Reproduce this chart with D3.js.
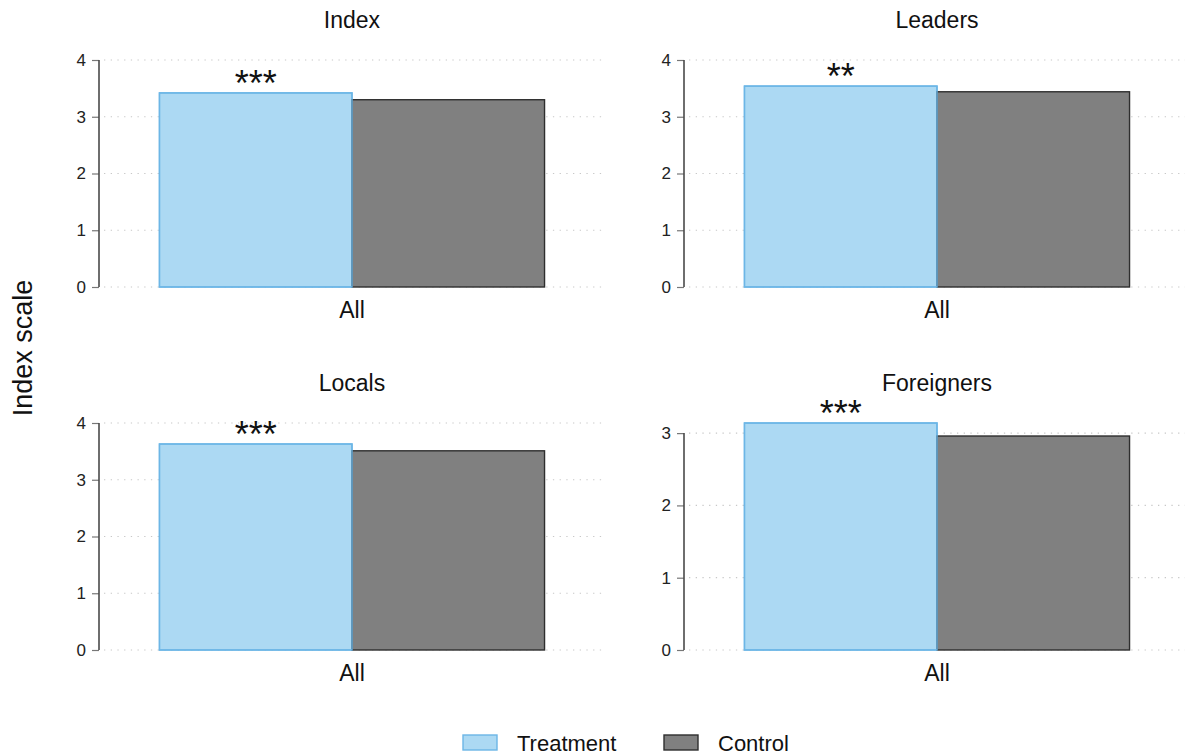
<!DOCTYPE html>
<html>
<head>
<meta charset="utf-8">
<script src="https://cdn.jsdelivr.net/npm/d3@7"></script>
<style>
  html, body { margin: 0; padding: 0; background: #fff; }
  svg { display: block; font-family: "Liberation Sans", Arial, Helvetica, sans-serif; }
</style>
</head>
<body>
<svg id="chart" width="1185" height="756"></svg>
<script>
// Panel titles, the single category, and the two series
const panelTitles = ["Index", "Leaders", "Locals", "Foreigners"];
const categories = ["All"];
const seriesNames = ["Treatment", "Control"];
const treatmentValues = [3.42, 3.54, 3.63, 3.14];
const controlValues = [3.30, 3.44, 3.51, 2.96];
const significance = ["***", "**", "***", "***"];
const yTickValues = [
  [0, 1, 2, 3, 4],
  [0, 1, 2, 3, 4],
  [0, 1, 2, 3, 4],
  [0, 1, 2, 3]
];

const colors = {
  Treatment: { fill: "#acd9f3", stroke: "#6cb6e6" },
  Control: { fill: "#808080", stroke: "#2e2e2e" }
};

const svg = d3.select("#chart");

// 2x2 grid of panels
const colX = [99, 684];
const rowY = [60, 423];
const panelW = 506, panelH = 227;

panelTitles.forEach((title, i) => {
  const left = colX[i % 2];
  const top = rowY[Math.floor(i / 2)];
  const bottom = top + panelH;
  const right = left + panelW;
  const ticks = yTickValues[i];
  const values = [treatmentValues[i], controlValues[i]];
  const yMax = Math.max(d3.max(ticks), d3.max(values));

  const y = d3.scaleLinear().domain([0, yMax]).range([bottom, top]);
  const x = d3.scaleBand().domain(categories).range([left, right])
    .paddingInner(0).paddingOuter(0.157);
  const xs = d3.scaleBand().domain(seriesNames).range([0, x.bandwidth()]).padding(0);

  const g = svg.append("g");

  // dotted horizontal gridlines
  g.append("g").selectAll("line").data(ticks).join("line")
    .attr("x1", left + 5).attr("x2", right)
    .attr("y1", d => y(d)).attr("y2", d => y(d))
    .attr("stroke", "#c8c8c8").attr("stroke-width", 1.2)
    .attr("stroke-dasharray", "1.3,5.4");

  // bars
  const rows = seriesNames.map((s, k) => ({ series: s, cat: categories[0], value: values[k] }));
  g.append("g").selectAll("rect").data(rows).join("rect")
    .attr("x", d => x(d.cat) + xs(d.series))
    .attr("y", d => y(d.value))
    .attr("width", xs.bandwidth())
    .attr("height", d => y(0) - y(d.value))
    .attr("fill", d => colors[d.series].fill)
    .attr("stroke", d => colors[d.series].stroke)
    .attr("stroke-width", 1.4);
  // redraw treatment outline on top so its edge shows beside the control bar
  g.append("rect")
    .attr("x", x(categories[0]) + xs("Treatment"))
    .attr("y", y(values[0]))
    .attr("width", xs.bandwidth())
    .attr("height", y(0) - y(values[0]))
    .attr("fill", "none")
    .attr("stroke", colors.Treatment.stroke)
    .attr("stroke-width", 1.4);

  // significance stars above the treatment bar
  g.append("text")
    .attr("x", x(categories[0]) + xs("Treatment") + xs.bandwidth() / 2)
    .attr("y", y(values[0]) + 3)
    .attr("text-anchor", "middle")
    .attr("font-size", 36)
    .attr("fill", "#111")
    .text(significance[i]);

  // y axis
  const yAxis = d3.axisLeft(y).tickValues(ticks).tickSize(7).tickPadding(6).tickFormat(d3.format("d"));
  const ya = g.append("g").attr("transform", `translate(${left},0)`).call(yAxis);
  ya.attr("font-size", 17).attr("font-family", "Liberation Sans, Arial, sans-serif");
  ya.select(".domain").remove();
  ya.append("line")
    .attr("x1", 0).attr("x2", 0)
    .attr("y1", y(d3.max(ticks))).attr("y2", y(0))
    .attr("stroke", "#4a4a4a").attr("stroke-width", 1.6);
  ya.selectAll(".tick line").attr("stroke", "#777").attr("stroke-width", 1.2);
  ya.selectAll(".tick text").attr("fill", "#222");

  // category label
  g.append("text")
    .attr("x", x(categories[0]) + x.bandwidth() / 2)
    .attr("y", bottom + 31)
    .attr("text-anchor", "middle")
    .attr("font-size", 23)
    .attr("fill", "#111")
    .text(categories[0]);

  // panel title
  g.append("text")
    .attr("x", x(categories[0]) + x.bandwidth() / 2)
    .attr("y", top - 32)
    .attr("text-anchor", "middle")
    .attr("font-size", 23)
    .attr("fill", "#111")
    .text(title);
});

// shared y-axis title
svg.append("text")
  .attr("transform", "translate(32,348) rotate(-90)")
  .attr("text-anchor", "middle")
  .attr("font-size", 27)
  .attr("fill", "#111")
  .text("Index scale");

// legend
const legendX = [463, 664];
const legend = svg.append("g");
seriesNames.forEach((s, k) => {
  legend.append("rect")
    .attr("x", legendX[k]).attr("y", 735)
    .attr("width", 34).attr("height", 15)
    .attr("fill", colors[s].fill)
    .attr("stroke", colors[s].stroke)
    .attr("stroke-width", 1.4);
  legend.append("text")
    .attr("x", legendX[k] + 54).attr("y", 751)
    .attr("font-size", 22)
    .attr("fill", "#111")
    .text(s);
});
</script>
</body>
</html>
